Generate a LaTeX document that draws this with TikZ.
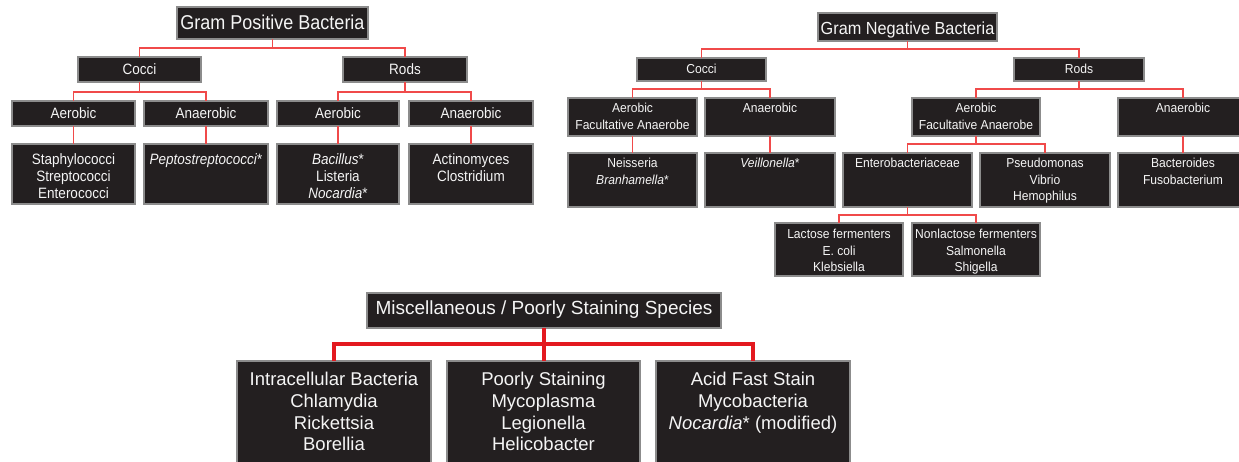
\documentclass[tikz,border=0pt]{standalone}
\usepackage{fontspec}
\setmainfont{Liberation Sans}
\newfontfamily\gpf{Liberation Sans}[FakeStretch=0.9]
\newfontfamily\gnf{Liberation Sans}[FakeStretch=0.93]
\newcommand\gpT{\gpf\fontsize{20}{24}\selectfont}
\newcommand\gpS{\gpf\fontsize{15}{17}\selectfont}
\newcommand\gnT{\gnf\fontsize{17.5}{21}\selectfont}
\newcommand\gnS{\gnf\fontsize{13}{16.5}\selectfont}
\newcommand\msT{\fontsize{19}{23}\selectfont}
\newcommand\msS{\fontsize{18.5}{21.7}\selectfont}
\definecolor{boxfill}{HTML}{231F20}
\definecolor{boxborder}{HTML}{8C8C8C}
\definecolor{linered}{HTML}{F04A4A}
\definecolor{thickred}{HTML}{E3191F}
\definecolor{txtcol}{HTML}{F5F5F5}
\tikzset{
  boxst/.style={draw=boxborder, fill=boxfill, line width=1.2pt, inner sep=0pt, outer sep=0pt},
  txtst/.style={text=txtcol, inner sep=0pt, align=center},
  conn/.style={draw=linered, line width=1.4pt},
  thickconn/.style={draw=thickred, line width=4pt},
}
\newcommand\mkbox[8]{%
  \node[boxst, anchor=north west, minimum width={#4-#2}, minimum height={#5-#3}] (#1) at (#2,#3) {};
  \node[txtst, anchor=north, font=#6] (#1-t) at ([yshift=-#7pt]#1.north) {#8};}
\begin{document}
\begin{tikzpicture}[x=1pt,y=-1pt]
\path[use as bounding box, fill=white] (0,0) rectangle (1239,461);
% ---------- Gram positive ----------
\mkbox{gp}{177}{7}{368}{39}{\gpT}{8}{Gram Positive Bacteria}
\mkbox{gpc}{78}{57}{201}{82}{\gpS}{6}{Cocci}
\mkbox{gpr}{343}{57}{467}{82}{\gpS}{6}{Rods}
\mkbox{gpca}{12}{101}{135}{126}{\gpS}{6}{Aerobic}
\mkbox{gpcn}{144}{101}{268}{126}{\gpS}{6}{Anaerobic}
\mkbox{gpra}{277}{101}{399}{126}{\gpS}{6}{Aerobic}
\mkbox{gprn}{409}{101}{533}{126}{\gpS}{6}{Anaerobic}
\mkbox{gpcaa}{12}{144}{135}{204}{\gpS}{9}{Staphylococci\\Streptococci\\Enterococci}
\mkbox{gpcnn}{144}{144}{268}{204}{\gpS}{9}{\textit{Peptostreptococci}*}
\mkbox{gpraa}{277}{144}{399}{204}{\gpS}{9}{\textit{Bacillus}*\\Listeria\\\textit{Nocardia}*}
\mkbox{gprnn}{409}{144}{533}{204}{\gpS}{9}{Actinomyces\\Clostridium}
\foreach \c in {gpc,gpr} \draw[conn] (\c.north) -- ++(0,-9) -| (gp.south);
\foreach \c in {gpca,gpcn} \draw[conn] (\c.north) -- ++(0,-9) -| (gpc.south);
\foreach \c in {gpra,gprn} \draw[conn] (\c.north) -- ++(0,-9) -| (gpr.south);
\draw[conn] (gpca.south) -- (gpcaa.north);
\draw[conn] (gpcn.south) -- (gpcnn.north);
\draw[conn] (gpra.south) -- (gpraa.north);
\draw[conn] (gprn.south) -- (gprnn.north);
% ---------- Gram negative ----------
\mkbox{gn}{818}{13}{997}{41}{\gnT}{9}{Gram Negative Bacteria}
\mkbox{gnc}{637}{58}{766}{81}{\gnS}{6}{Cocci}
\mkbox{gnr}{1014}{58}{1144}{81}{\gnS}{6}{Rods}
\mkbox{gnca}{568}{98}{697}{136}{\gnS}{5}{Aerobic\\Facultative Anaerobe}
\mkbox{gncn}{705}{98}{835}{136}{\gnS}{5}{Anaerobic}
\mkbox{gnra}{912}{98}{1040}{136}{\gnS}{5}{Aerobic\\Facultative Anaerobe}
\mkbox{gnrn}{1118}{98}{1248}{136}{\gnS}{5}{Anaerobic}
\mkbox{gncaa}{568}{153}{697}{207}{\gnS}{5}{Neisseria\\\textit{Branhamella}*}
\mkbox{gncnn}{705}{153}{835}{207}{\gnS}{5}{\textit{Veillonella}*}
\mkbox{gnent}{843}{153}{972}{207}{\gnS}{5}{Enterobacteriaceae}
\mkbox{gnpse}{980}{153}{1110}{207}{\gnS}{5}{Pseudomonas\\Vibrio\\Hemophilus}
\mkbox{gnrnn}{1118}{153}{1248}{207}{\gnS}{5}{Bacteroides\\Fusobacterium}
\mkbox{gnlac}{775}{223}{903}{276}{\gnS}{6}{Lactose fermenters\\E. coli\\Klebsiella}
\mkbox{gnnon}{912}{223}{1040}{276}{\gnS}{6}{Nonlactose fermenters\\Salmonella\\Shigella}
\foreach \c in {gnc,gnr} \draw[conn] (\c.north) -- ++(0,-9) -| (gn.south);
\foreach \c in {gnca,gncn} \draw[conn] (\c.north) -- ++(0,-9) -| (gnc.south);
\foreach \c in {gnra,gnrn} \draw[conn] (\c.north) -- ++(0,-9) -| (gnr.south);
\foreach \c in {gnent,gnpse} \draw[conn] (\c.north) -- ++(0,-9) -| (gnra.south);
\foreach \c in {gnlac,gnnon} \draw[conn] (\c.north) -- ++(0,-8) -| (gnent.south);
\draw[conn] (gnca.south) -- (gncaa.north);
\draw[conn] (gncn.south) -- (gncnn.north);
\draw[conn] (gnrn.south) -- (gnrnn.north);
% ---------- Miscellaneous ----------
\mkbox{ms}{367}{293}{721}{328}{\msT}{8}{Miscellaneous / Poorly Staining Species}
\mkbox{msa}{237}{361}{431}{475}{\msS}{11}{Intracellular Bacteria\\Chlamydia\\Rickettsia\\Borellia}
\mkbox{msb}{447}{361}{640}{475}{\msS}{11}{Poorly Staining\\Mycoplasma\\Legionella\\Helicobacter}
\mkbox{msc}{656}{361}{850}{475}{\msS}{11}{Acid Fast Stain\\Mycobacteria\\\textit{Nocardia}* (modified)}
\foreach \c in {msa,msb,msc} \draw[thickconn] (\c.north) -- ++(0,-17) -| (ms.south);
\end{tikzpicture}
\end{document}
